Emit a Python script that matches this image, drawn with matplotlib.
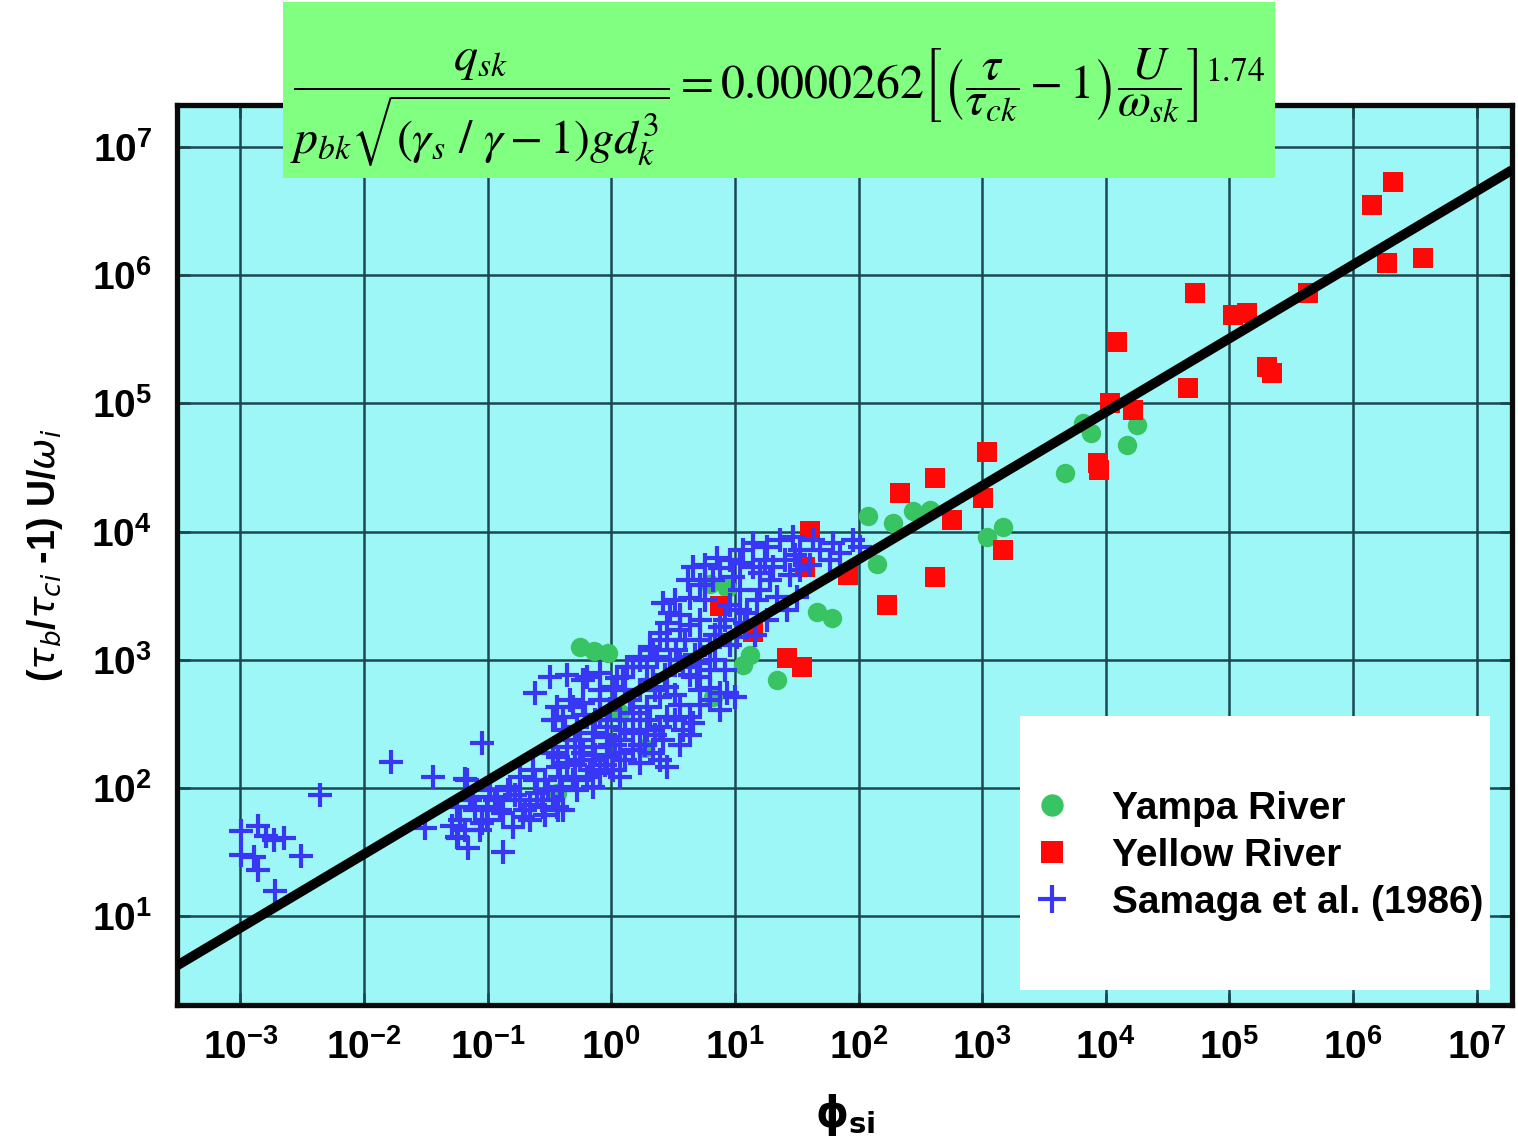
import numpy as np
import matplotlib
matplotlib.use("Agg")
import matplotlib.pyplot as plt
from matplotlib.patches import Rectangle
from matplotlib.ticker import NullLocator

# ---------------- data (log10 units) ----------------
yampa_log_phi = [-0.254, -0.141, -0.028, 0.070, 0.272, -0.440, 0.798, 0.935, 0.822,
                 1.121, 1.065, 1.340, 1.663, 1.785, 2.076, 2.149, 2.278, 2.440, 2.578,
                 3.039, 3.168, 3.670, 3.816, 3.880, 4.172, 4.252]
yampa_log_y = [3.100, 3.069, 3.053, 2.585, 2.312, 1.961, 3.591, 3.560, 2.710,
               3.037, 2.959, 2.842, 3.373, 3.326, 4.122, 3.747, 4.067, 4.161, 4.168,
               3.958, 4.036, 4.457, 4.847, 4.769, 4.676, 4.832]

yellow_log_phi = [6.324, 6.154, 6.275, 6.566, 5.636, 4.722, 5.029, 5.142, 4.091,
                  5.304, 5.345, 4.665, 4.034, 4.220, 3.039, 2.618, 2.335, 3.006,
                  2.756, 3.937, 3.945, 3.168, 1.914, 2.618, 2.230, 1.421, 1.542,
                  1.607, 1.566, 0.879, 1.146]
yellow_log_y = [6.727, 6.548, 6.095, 6.134, 5.861, 5.861, 5.690, 5.705, 5.479,
                5.284, 5.237, 5.120, 5.003, 4.949, 4.621, 4.418, 4.301, 4.262,
                4.090, 4.535, 4.480, 3.856, 3.661, 3.646, 3.427, 3.014, 2.944,
                4.005, 3.724, 3.420, 3.217]

samaga_log_phi = [
    # far left group
    -2.997, -2.859, -2.795, -2.730, -2.649, -2.997, -2.892, -2.859, -2.511, -2.722,
    # sparse
    -2.358, -1.783, -1.443, -1.185, -1.047, -1.508, -1.290, -1.241, -1.160, -0.877,
    # lower cluster
    -1.249, -1.225, -1.120, -1.007, -1.007, -0.926, -0.877, -0.820, -0.740, -0.740,
    -0.715, -0.602, -0.553, -0.473, -0.392, -0.796, -0.659, -1.063, -1.168, -1.104,
    -1.047, -0.699, -0.562, -0.432, -0.400, -0.432, -0.456, -0.432, -0.837, -0.942,
    -1.249, -1.144, -0.983, -0.902, -0.780, -0.659, -0.537, -0.618, -0.513, -1.185,
    # dense cluster
    -0.618, -0.497, -0.359, -0.230, -0.092, 0.045, 0.126, 0.231, 0.337, 0.393,
    0.450, -0.440, -0.335, -0.230, -0.473, -0.392, -0.278, -0.149, -0.036, 0.070,
    0.175, 0.288, 0.393, 0.450, 0.337, 0.288, -0.473, -0.359, -0.254, -0.149,
    -0.036, 0.070, 0.175, 0.288, 0.393, 0.450, -0.359, -0.254, -0.149, -0.036,
    0.070, 0.175, 0.231, 0.337, -0.416, -0.311, -0.197, -0.092, 0.013, 0.070,
    -0.416, -0.278, -0.149, -0.440, 0.450, 0.636, 0.579, 0.417, 0.935, 0.798,
    0.693, 0.579, 0.474, 0.369, 0.312, 0.231, 0.175, 0.094, 0.013, -0.197,
    -0.311, -0.230, -0.634, -0.092, -0.011, 0.150, 0.231, 0.110, -0.092, 0.272,
    -0.011, -0.295,
    -0.537, -0.173, -0.052, 0.110, 0.231, 0.353, 0.514, 0.555, 0.717, 0.717,
    0.514, 0.353, 0.312, 0.029, -0.133, -0.295, -0.376, -0.214, -0.092, 0.029,
    -0.133, 0.231, 0.110, 0.393, 0.555, 0.636, 0.879, 0.798, 1.000,
    # upper cluster
    0.417, 0.450, 0.474, 0.660, 0.620, 0.636, 0.854, 0.879, 0.822, 1.040,
    1.065, 1.146, 1.259, 1.364, 1.469, 1.631, 1.793, 1.955, 2.011, 1.850,
    1.688, 1.526, 1.146, 1.307, 0.984, 1.178, 1.340, 1.502, 1.421, 1.259,
    1.097, 0.879, 0.798, 0.717, 1.016, 0.960, 1.081, 0.717, 0.757, 0.960,
    0.523, 0.595, 0.676, 0.838, 0.919, 0.879, 0.660, 1.405, 1.769, 1.202,
    0.717, 0.514, 0.555, 1.040,
    0.717, 0.838, 0.919, 1.040, 1.202, 1.283, 1.445, 1.607, 0.555, 0.636,
    0.757, 0.960, 0.757, 1.242, 1.486, 1.526, 1.162, 0.555, 0.433, 0.636,
    0.798]
samaga_log_y = [
    1.665, 1.704, 1.626, 1.594, 1.610, 1.477, 1.462, 1.360, 1.470, 1.197,
    1.945, 2.203, 2.086, 2.070, 2.351, 1.688, 1.704, 1.610, 1.532, 1.501,
    1.852, 1.750, 1.930, 1.852, 1.750, 1.930, 1.805, 2.008, 2.086, 1.906,
    1.774, 1.961, 1.852, 1.906, 1.828, 1.696, 1.750, 1.672, 2.062, 1.828,
    1.727, 1.828, 1.906, 1.828, 2.008, 2.164, 2.530, 2.242, 1.984, 1.906,
    1.618, 1.906, 1.984, 1.828, 1.945, 1.867, 1.789, 2.062, 1.984, 1.672,
    2.741, 2.866, 2.881, 2.842, 2.897, 2.858, 2.944, 2.998, 3.076, 3.209,
    3.154, 2.632, 2.686, 2.663, 2.530, 2.554, 2.476, 2.429, 2.476, 2.530,
    2.585, 2.632, 2.710, 2.788, 2.842, 2.944, 2.273, 2.320, 2.374, 2.320,
    2.398, 2.374, 2.429, 2.452, 2.476, 2.554, 2.195, 2.218, 2.218, 2.242,
    2.273, 2.296, 2.195, 2.273, 2.086, 2.062, 2.086, 2.117, 2.140, 2.086,
    1.984, 1.984, 2.008, 1.852, 2.164, 2.554, 2.452, 2.374, 2.741, 2.780,
    2.866, 2.944, 2.998, 3.022, 3.100, 3.022, 2.944, 2.866, 2.788, 2.866,
    2.632, 2.273, 2.140, 2.686, 2.616, 2.686, 2.764, 2.764, 2.569, 2.336,
    2.336, 2.179,
    2.062, 2.140, 2.179, 2.218, 2.336, 2.413, 2.530, 2.647, 2.764, 2.647,
    2.725, 2.764, 2.530, 2.336, 2.257, 2.374, 2.452, 2.569, 2.764, 2.686,
    2.530, 2.530, 2.452, 2.218, 2.336, 2.413, 2.608, 2.686, 2.710,
    3.443, 3.287, 3.365, 3.724, 3.622, 3.482, 3.794, 3.716, 3.622, 3.755,
    3.856, 3.911, 3.880, 3.934, 3.958, 3.934, 3.911, 3.934, 3.880, 3.833,
    3.856, 3.856, 3.724, 3.724, 3.646, 3.466, 3.490, 3.490, 3.388, 3.310,
    3.365, 3.256, 3.100, 2.975, 3.178, 3.115, 3.287, 3.310, 3.466, 3.427,
    3.076, 3.154, 3.037, 2.998, 2.920, 2.741, 2.507, 3.778, 3.778, 3.677,
    3.583, 3.466, 3.232, 3.541,
    3.154, 3.193, 3.310, 3.388, 3.545, 3.622, 3.661, 3.739, 3.349, 3.271,
    3.622, 3.778, 3.739, 3.778, 3.817, 3.700, 3.193, 2.998, 2.881, 2.881,
    2.920]

fit_coef = 0.0000262
fit_exp = 1.74

x_tick_exponents = list(range(-3, 8))
y_tick_exponents = list(range(1, 8))
series_labels = ["Yampa River", "Yellow River", "Samaga et al. (1986)"]

# ---------------- figure ----------------
plt.rcParams["font.family"] = ["Liberation Sans", "DejaVu Sans"]

W, H = 1518, 1140
fig = plt.figure(figsize=(W / 100, H / 100), dpi=100)
ax = fig.add_axes([177 / W, 1 - 1005 / H, (1512 - 177) / W, (1005 - 105) / H])
ax.set_xscale("log")
ax.set_yscale("log")
ax.set_xlim(10 ** -3.513, 10 ** 7.286)
ax.set_ylim(10 ** 0.307, 10 ** 7.328)
ax.set_facecolor("#9ef7f7")

grid_col = "#1a4850"
ax.grid(True, which="major", color=grid_col, linewidth=1.8)
ax.set_axisbelow(True)

ax.plot(10 ** np.array(yampa_log_phi), 10 ** np.array(yampa_log_y), linestyle="none",
        marker="o", markersize=14, color="#38c463", markeredgewidth=0,
        label=series_labels[0], zorder=3)
ax.plot(10 ** np.array(yellow_log_phi), 10 ** np.array(yellow_log_y), linestyle="none",
        marker="s", markersize=14, color="#ff0808", markeredgewidth=0,
        label=series_labels[1], zorder=3.1)
ax.plot(10 ** np.array(samaga_log_phi), 10 ** np.array(samaga_log_y), linestyle="none",
        marker="+", markersize=17, markeredgewidth=3.0, color="#3838f4",
        label=series_labels[2], zorder=3.2)

xl = np.array(ax.get_xlim())
ax.plot(xl, (xl / fit_coef) ** (1 / fit_exp), color="black", linewidth=7,
        solid_capstyle="butt", zorder=4)

ax.set_xticks(10.0 ** np.array(x_tick_exponents))
ax.set_xticklabels([r"$\mathdefault{10^{%d}}$" % e for e in x_tick_exponents],
                   fontsize=28, fontweight="bold")
ax.set_yticks(10.0 ** np.array(y_tick_exponents))
ax.set_yticklabels([r"$\mathdefault{10^{%d}}$" % e for e in y_tick_exponents],
                   fontsize=28, fontweight="bold")
ax.xaxis.set_minor_locator(NullLocator())
ax.yaxis.set_minor_locator(NullLocator())
ax.tick_params(axis="both", which="major", direction="in", length=9, width=1.8,
               color=grid_col, top=True, right=True)
ax.tick_params(axis="x", pad=17)
ax.tick_params(axis="y", pad=18)
for sp in ax.spines.values():
    sp.set_linewidth(3.8)
    sp.set_color("#0a0a0a")

# legend with white box
ax.add_patch(Rectangle((0.6315, 0.0167), 0.352, 0.304, transform=ax.transAxes,
                       facecolor="white", edgecolor="none", zorder=6))
leg = ax.legend(loc="upper left", bbox_to_anchor=(0.6337, 0.2378), frameon=False,
                prop={"size": 28, "weight": "bold"}, borderpad=0, handlelength=1.5,
                handletextpad=0.8, labelspacing=0.28, borderaxespad=0,
                markerscale=1.15)
leg.set_zorder(7)

# axis labels
fig.text(845 / W, 1 - 1115 / H, r"ϕ$_{\mathbf{si}}$", ha="center", va="center",
         fontsize=30, fontweight="bold", family=["DejaVu Sans"])
fig.text(45 / W, 1 - 555 / H, r"($\tau_b$/$\tau_{ci}$ -1) U/$\omega_i$",
         rotation=90, ha="center", va="center", fontsize=27, fontweight="bold")

# formula box
fig.add_artist(Rectangle((283 / W, 1 - 178 / H), 992 / W, 176 / H,
                         transform=fig.transFigure, facecolor="#80ff80",
                         edgecolor="none", zorder=10))
formula = (r"$\dfrac{q_{sk}}{p_{bk}\sqrt{\left(\gamma_s\ /\ \gamma-1\right)gd_k^3}}"
           r"=0.0000262\left[\left(\dfrac{\tau}{\tau_{ck}}-1\right)\dfrac{U}{\omega_{sk}}\right]^{1.74}$")
fig.text(777 / W, 1 - 108 / H, formula, ha="center", va="center", fontsize=34.5,
         math_fontfamily="stix", zorder=11)

fig.savefig("out.png", dpi=100)
